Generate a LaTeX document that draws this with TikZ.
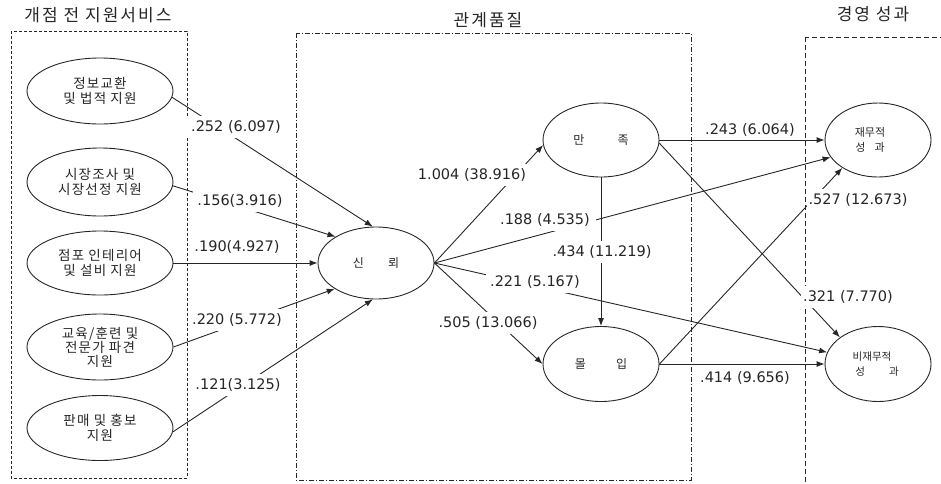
\documentclass[tikz,border=0pt]{standalone}
\usepackage{fontspec}
\setmainfont{DejaVu Sans}
\newfontfamily\kr[LetterSpace=9]{Noto Sans CJK KR}
\newfontfamily\krn{Noto Sans CJK KR}
\newfontfamily\krt[LetterSpace=12]{Noto Sans CJK KR}
\usetikzlibrary{shapes.geometric,arrows.meta}
\begin{document}
\begin{tikzpicture}[x=1pt,y=-1pt,
  ell/.style={ellipse, draw=black!85, line width=0.9pt, inner sep=0pt, align=center,
    text=black!85, font=\kr\fontsize{13.5}{14.5}\selectfont},
  ells/.style={ellipse, draw=black!85, line width=0.9pt, inner sep=0pt, align=center,
    text=black!85, font=\krn\fontsize{12}{16}\selectfont},
  arr/.style={draw=black!85, line width=0.9pt, -{Latex[length=8pt,width=6pt]}},
  lbl/.style={fill=white, inner xsep=4pt, inner ysep=5pt, text=black!85,
    font=\fontsize{14.5}{16}\selectfont},
  lbln/.style={inner sep=1pt, text=black!85, font=\fontsize{14.5}{16}\selectfont},
  ttl/.style={text=black!85, font=\krt\fontsize{17}{19}\selectfont},
  boxa/.style={draw=black!85, line width=0.8pt, dash pattern=on 3pt off 2pt},
  boxb/.style={draw=black!85, line width=0.8pt, dash pattern=on 5pt off 2pt on 1pt off 2pt},
  boxc/.style={draw=black!85, line width=0.8pt, dash pattern=on 5pt off 3pt}
]
\useasboundingbox (0,0) rectangle (941,483);

% titles
\node[ttl] (t1) at (98,15) {개점 전 지원서비스};
\node[ttl] (t2) at (488,20) {관계품질};
\node[ttl] (t3) at (873,14) {경영 성과};

% group frames
\draw[boxa] (11,31) rectangle (187,478);
\draw[boxb] (296,33) rectangle (691,480);
\draw[boxc] (805,37) rectangle (960,500);

% left ellipses
\node[ell, minimum width=146pt, minimum height=66pt] (e1) at (100,91) {정보교환\\및 법적 지원};
\node[ell, minimum width=146pt, minimum height=68pt] (e2) at (100,182) {시장조사 및\\시장선정 지원};
\node[ell, minimum width=146pt, minimum height=64pt] (e3) at (100,263) {점포 인테리어\\및 설비 지원};
\node[ell, minimum width=146pt, minimum height=66pt, font=\kr\fontsize{13.5}{13.5}\selectfont] (e4) at (100,347) {교육/훈련 및\\전문가 파견\\지원};
\node[ell, minimum width=146pt, minimum height=65pt] (e5) at (100,428) {판매 및 홍보\\지원};

% relationship quality
\node[ells, minimum width=116pt, minimum height=72pt] (trust) at (376,263) {신\hspace{24pt}뢰};
\node[ells, minimum width=116pt, minimum height=74pt] (sat) at (601,140) {만\hspace{33pt}족};
\node[ells, minimum width=116pt, minimum height=75pt] (com) at (601,364) {몰\hspace{30pt}입};

% performance
\node[ells, minimum width=106pt, minimum height=74pt, font=\krn\fontsize{11}{15}\selectfont] (fin) at (878,140) {재무적\hspace*{16pt}\\성\hspace{9pt}과\hspace*{16pt}};
\node[ells, minimum width=106pt, minimum height=75pt, font=\krn\fontsize{10.5}{15}\selectfont] (nf) at (878,364) {비재무적\hspace*{12pt}\\성\hspace{24pt}과\hspace*{2pt}};

% connectors
\draw[arr] (e1.-5) -- (trust.95);
\draw[arr] (e2.-3) -- (trust.147);
\draw[arr] (e3.east) -- (trust.west);
\draw[arr] (e4.east) -- (trust.212);
\draw[arr] (e5.-3) -- (trust.265);
\draw[arr] (trust.east) -- (sat.185);
\draw[arr] (trust.east) -- (com.west);
\draw[arr] (trust.east) -- (fin.200);
\draw[arr] (trust.east) -- (nf.167);
\draw[arr] (sat.south) -- (com.north);
\draw[arr] (sat.east) -- (fin.west);
\draw[arr] (sat.-3) -- (nf.145);
\draw[arr] (com.east) -- (fin.218);
\draw[arr] (com.east) -- (nf.west);

% coefficients
\node[lbl] (l1) at (236,127) {.252 (6.097)};
\node[lbl] (l2) at (240,201) {.156(3.916)};
\node[lbln] (l3) at (237,247) {.190(4.927)};
\node[lbl] (l4) at (237,320) {.220 (5.772)};
\node[lbl] (l5) at (238,385) {.121(3.125)};
\node[lbl] (l6) at (472,175) {1.004 (38.916)};
\node[lbl, inner xsep=6pt] (l7) at (545,220) {.188 (4.535)};
\node[lbl] (l8) at (602,252) {.434 (11.219)};
\node[lbl] (l9) at (535,282) {.221 (5.167)};
\node[lbl] (l10) at (488,323) {.505 (13.066)};
\node[lbln] (l11) at (750,130) {.243 (6.064)};
\node[lbl, inner xsep=2pt] (l12) at (858,200) {.527 (12.673)};
\node[lbl, inner xsep=2pt] (l13) at (848,297) {.321 (7.770)};
\node[lbln] (l14) at (745,378) {.414 (9.656)};
\end{tikzpicture}
\end{document}
